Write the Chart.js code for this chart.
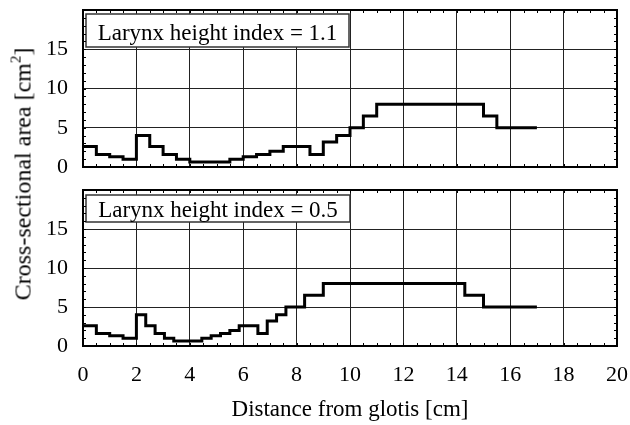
<!DOCTYPE html>
<html>
<head>
<meta charset="utf-8">
<script src="https://cdn.jsdelivr.net/npm/chart.js@4.4.1/dist/chart.umd.min.js"></script>
<style>
  body { margin: 0; background: #fff; }
  #wrap { position: relative; width: 630px; height: 425px; overflow: hidden; background: #fff; }
  #topChart { position: absolute; left: 0; top: 0; }
  #lowChart { position: absolute; left: 0; top: 180px; }
  #ytitle {
    position: absolute; left: 23px; top: 174px;
    transform: translate(-50%, -50%) rotate(-90deg);
    white-space: nowrap; font: 24px 'Liberation Serif', 'Times New Roman', serif; color: #000;
  }
  #ytitle sup { font-size: 15px; vertical-align: 10px; line-height: 0; }
</style>
</head>
<body>
<div id="wrap">
  <canvas id="topChart" width="630" height="180"></canvas>
  <canvas id="lowChart" width="630" height="245"></canvas>
  <div id="ytitle">Cross-sectional area [cm<sup>2</sup>]</div>
</div>
<script>
// section start positions (cm from glottis) + end of last section, and area of each section (cm^2)
const topEdges = [0, 0.5, 1.0, 1.5, 2.0, 2.5, 3.0, 3.5, 4.0, 5.5, 6.0, 6.5, 7.0, 7.5, 8.5, 9.0, 9.5, 10.0, 10.5, 11.0, 15.0, 15.5, 17.0];
const topArea  = [2.6, 1.6, 1.3, 1.0, 4.0, 2.6, 1.6, 1.0, 0.65, 1.0, 1.3, 1.6, 2.0, 2.6, 1.6, 3.2, 4.0, 5.0, 6.5, 8.0, 6.5, 5.0];

const lowEdges = [0, 0.5, 1.0, 1.5, 2.0, 2.35, 2.7, 3.05, 3.4, 4.45, 4.8, 5.15, 5.5, 5.85, 6.55, 6.9, 7.25, 7.6, 8.3, 9.0, 14.3, 15.0, 17.0];
const lowArea  = [2.6, 1.6, 1.3, 1.0, 4.0, 2.6, 1.6, 1.0, 0.65, 1.0, 1.3, 1.6, 2.0, 2.6, 1.6, 3.2, 4.0, 5.0, 6.5, 8.0, 6.5, 5.0];

const panelLabels = ['Larynx height index = 1.1', 'Larynx height index = 0.5'];
const xTitle = 'Distance from glotis [cm]';
const xTicks = [0, 2, 4, 6, 8, 10, 12, 14, 16, 18, 20];
const yTicks = [0, 5, 10, 15];

const FONT = "'Liberation Serif', 'Times New Roman', serif";

function toPoints(edges, area) {
  const pts = area.map((a, i) => ({ x: edges[i], y: a }));
  pts.push({ x: edges[edges.length - 1], y: area[area.length - 1] });
  return pts;
}

// label box, frame and small inward ticks on all four sides
const decoPlugin = {
  id: 'deco',
  beforeDatasetsDraw(chart, args, opts) {
    const { ctx, chartArea: a } = chart;
    const b = opts.box;
    ctx.save();
    ctx.fillStyle = '#fff';
    ctx.fillRect(a.left + b.dx, a.top + b.dy, b.w, b.h);
    ctx.strokeStyle = '#333';
    ctx.lineWidth = 1.5;
    ctx.strokeRect(a.left + b.dx, a.top + b.dy, b.w, b.h);
    ctx.fillStyle = '#000';
    ctx.font = '23px ' + FONT;
    ctx.textAlign = 'center';
    ctx.textBaseline = 'alphabetic';
    ctx.fillText(opts.label, a.left + b.dx + b.w / 2, a.top + b.dy + b.h - b.base);
    ctx.restore();
  },
  afterDraw(chart) {
    const { ctx, chartArea: a, scales } = chart;
    const xs = scales.x, ys = scales.y;
    ctx.save();
    ctx.strokeStyle = '#000';
    ctx.lineWidth = 1;
    ctx.beginPath();
    for (let v = 0.5; v < 20; v += 0.5) {
      const px = Math.round(xs.getPixelForValue(v)) + 0.5;
      ctx.moveTo(px, a.bottom); ctx.lineTo(px, a.bottom - 3);
      ctx.moveTo(px, a.top); ctx.lineTo(px, a.top + 3);
    }
    for (let v = 1; v < 20; v += 1) {
      const py = Math.round(ys.getPixelForValue(v)) + 0.5;
      ctx.moveTo(a.left, py); ctx.lineTo(a.left + 3, py);
      ctx.moveTo(a.right, py); ctx.lineTo(a.right - 3, py);
    }
    ctx.stroke();
    ctx.lineWidth = 2;
    ctx.strokeRect(a.left, a.top, a.right - a.left, a.bottom - a.top);
    ctx.restore();
  }
};

function noPad(s) {
  s.paddingTop = 0; s.paddingBottom = 0; s.paddingLeft = 0; s.paddingRight = 0;
}

function makeChart(id, edges, area, label, box, showX) {
  return new Chart(document.getElementById(id), {
    type: 'line',
    data: {
      datasets: [{
        data: toPoints(edges, area),
        borderColor: '#000',
        borderWidth: 3,
        pointRadius: 0,
        stepped: true,
        fill: false,
        borderJoinStyle: 'miter'
      }]
    },
    options: {
      responsive: false,
      animation: false,
      layout: { padding: { top: 10, right: 13, left: 0, bottom: 0 } },
      plugins: {
        legend: { display: false },
        tooltip: { enabled: false },
        deco: { label, box }
      },
      scales: {
        x: {
          type: 'linear', min: 0, max: 20,
          afterBuildTicks: s => { s.ticks = xTicks.map(v => ({ value: v })); },
          ticks: { display: showX, color: '#000', font: { family: FONT, size: 22 }, padding: 16, maxRotation: 0 },
          grid: { color: '#222', lineWidth: 1, drawTicks: false },
          border: { display: false },
          title: { display: showX, text: xTitle, color: '#000', font: { family: FONT, size: 23 }, padding: { top: 0, bottom: 1 } },
          afterFit: s => { s.height = showX ? 79 : 13; noPad(s); }
        },
        y: {
          type: 'linear', min: 0, max: 20,
          afterBuildTicks: s => { s.ticks = yTicks.concat([20]).map(v => ({ value: v })); },
          ticks: {
            color: '#000', font: { family: FONT, size: 22 }, padding: 15,
            callback: v => (yTicks.includes(v) ? String(v) : null)
          },
          grid: { color: '#222', lineWidth: 1, drawTicks: false },
          border: { display: false },
          afterFit: s => { s.width = 83; noPad(s); }
        }
      }
    },
    plugins: [decoPlugin]
  });
}

makeChart('topChart', topEdges, topArea, panelLabels[0], { dx: 3, dy: 4, w: 263, h: 33, base: 7 }, false);
makeChart('lowChart', lowEdges, lowArea, panelLabels[1], { dx: 3, dy: 5, w: 264, h: 27, base: 5 }, true);
</script>
</body>
</html>
